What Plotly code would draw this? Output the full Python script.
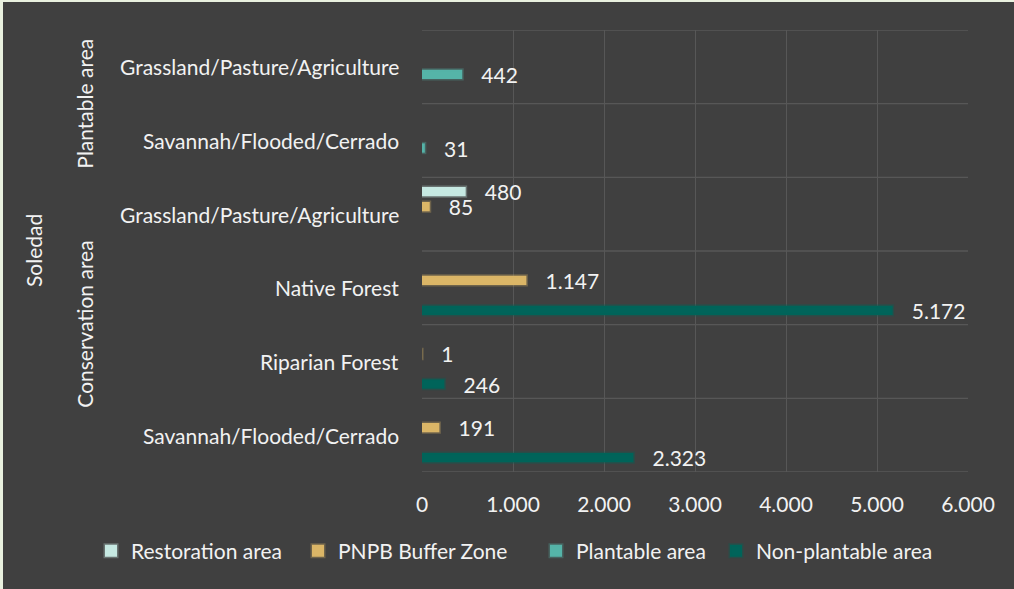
import plotly.graph_objects as go

# ---------------- data ----------------
groups = ["Plantable area", "Plantable area", "Conservation area",
          "Conservation area", "Conservation area", "Conservation area"]
categories = ["Grassland/Pasture/Agriculture", "Savannah/Flooded/Cerrado",
              "Grassland/Pasture/Agriculture", "Native Forest",
              "Riparian Forest", "Savannah/Flooded/Cerrado"]
site = "Soledad"

restoration = [None, None, 480, None, None, None]
pnpb_buffer = [None, None, 85, 1147, 1, 191]
plantable = [442, 31, None, None, None, None]
non_plantable = [None, None, None, 5172, 246, 2323]

series_names = ["Restoration area", "PNPB Buffer Zone", "Plantable area", "Non-plantable area"]
series_values = [restoration, pnpb_buffer, plantable, non_plantable]
series_colors = ["#c6e9e2", "#dbb667", "#55b4a8", "#00645a"]
glow_colors = ["rgba(198,233,226,0.30)", "rgba(219,182,103,0.30)",
               "rgba(85,180,168,0.30)", "rgba(0,100,90,0.35)"]

x_ticks = [0, 1000, 2000, 3000, 4000, 5000, 6000]

# ---------------- layout constants ----------------
W, H = 1014, 589
ML, MR, MT, MB = 422, 46, 30, 117
PW = W - ML - MR
FONT = "Lato"
TXT = "#f2f2f2"
FS = 21
legend_px = [91, 298, 536, 716]   # left edge of each legend entry (pixels)

keys = [f"{g}|{c}" for g, c in zip(groups, categories)]
legend_ids = ["legend", "legend2", "legend3", "legend4"]

fig = go.Figure()
for name, vals, col, gcol, lid in zip(series_names, series_values, series_colors,
                                       glow_colors, legend_ids):
    fig.add_trace(go.Bar(
        y=keys, x=vals, orientation="h", name=name, legend=lid,
        marker=dict(color=col, line=dict(color=gcol, width=3)),
        texttemplate="\u00a0\u00a0\u00a0%{x:,d}", textposition="outside",
        textfont=dict(family=FONT, size=FS, color=TXT),
        constraintext="none", cliponaxis=False,
    ))


def px_to_paper_x(px):
    return (px - ML) / PW


annotations = []
# category labels
for i, c in enumerate(categories):
    annotations.append(dict(
        x=px_to_paper_x(401), xref="paper", xanchor="right",
        y=i, yref="y", yanchor="middle", text=c, showarrow=False,
        font=dict(family=FONT, size=FS, color=TXT)))
# group labels (rotated)
group_order = []
for g in groups:
    if g not in group_order:
        group_order.append(g)
for g in group_order:
    idx = [i for i, gg in enumerate(groups) if gg == g]
    annotations.append(dict(
        x=px_to_paper_x(85), xref="paper", xanchor="center",
        y=(idx[0] + idx[-1]) / 2, yref="y", yanchor="middle",
        text=g, textangle=-90, showarrow=False,
        font=dict(family=FONT, size=FS, color=TXT)))
annotations.append(dict(
    x=px_to_paper_x(33), xref="paper", xanchor="center",
    y=(len(categories) - 1) / 2, yref="y", yanchor="middle",
    text=site, textangle=-90, showarrow=False,
    font=dict(family=FONT, size=FS, color=TXT)))

# thin light border strips at left and top of picture
PH = H - MT - MB
shapes = [
    dict(type="rect", xref="paper", yref="paper",
         x0=px_to_paper_x(0), x1=px_to_paper_x(3),
         y0=-(MB / PH), y1=1 + MT / PH,
         fillcolor="#e9f1df", line=dict(width=0), layer="above"),
    dict(type="rect", xref="paper", yref="paper",
         x0=px_to_paper_x(0), x1=px_to_paper_x(W),
         y0=1 + (MT - 2) / PH, y1=1 + MT / PH,
         fillcolor="#e9f1df", line=dict(width=0), layer="above"),
]

legend_layouts = {}
for lid, lx in zip(legend_ids, legend_px):
    legend_layouts[lid] = dict(
        orientation="h", xref="container", x=lx / W, xanchor="left",
        yref="container", y=(H - 551) / H, yanchor="middle",
        font=dict(family=FONT, size=FS, color=TXT),
        itemwidth=30, bgcolor="rgba(0,0,0,0)")

fig.update_layout(
    width=W, height=H,
    margin=dict(l=ML, r=MR, t=MT, b=MB, pad=0),
    paper_bgcolor="#404040", plot_bgcolor="#404040",
    barmode="group", bargap=0.185, bargroupgap=0.38,
    separators=",.",
    font=dict(family=FONT, size=FS, color=TXT),
    showlegend=True,
    xaxis=dict(range=[0, 6000], tickvals=x_ticks, tickformat=",d",
               showgrid=True, gridcolor="#575757", gridwidth=1.3,
               zeroline=False, showline=False, ticks="",
               ticklabelstandoff=18,
               tickfont=dict(family=FONT, size=FS, color=TXT)),
    yaxis=dict(type="category", categoryorder="array", categoryarray=keys,
               range=[len(keys) - 0.5, -0.5], showticklabels=False,
               showgrid=False, zeroline=False, showline=False, ticks=""),
    annotations=annotations,
    shapes=shapes,
    **legend_layouts,
)

# horizontal separators between categories (gridlines between rows)
for b in range(len(keys) + 1):
    fig.add_shape(type="line", xref="paper", yref="y", x0=0, x1=1,
                  y0=b - 0.5, y1=b - 0.5, line=dict(color="#575757", width=1.3),
                  layer="below")

fig.write_html("out.html", config={"displayModeBar": False},
               post_script="document.body.style.margin='0';")
